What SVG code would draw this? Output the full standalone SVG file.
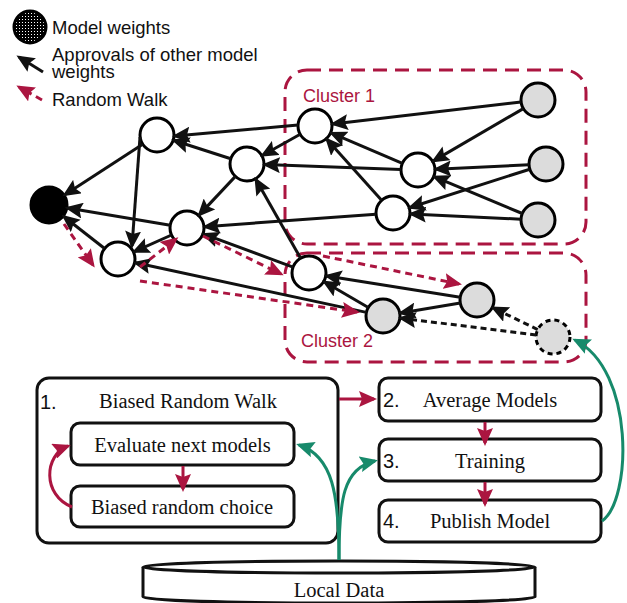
<svg xmlns="http://www.w3.org/2000/svg" width="627" height="603" viewBox="0 0 627 603">
<defs>
<style>
.n{fill:#fff;stroke:#000;stroke-width:3}
.g{fill:#dcdcdc;stroke:#000;stroke-width:3}
.e{stroke:#111;stroke-width:3;fill:none;marker-end:url(#aB)}
.ed{stroke:#111;stroke-width:3;fill:none;stroke-dasharray:6 4;marker-end:url(#aB)}
.rw{stroke:#ab1540;stroke-width:3;fill:none;stroke-dasharray:7 5;marker-end:url(#aR)}
.ra{stroke:#ab1540;stroke-width:3;fill:none;marker-end:url(#aR)}
.ga{stroke:#178a6b;stroke-width:3;fill:none;marker-end:url(#aG)}
.cl{fill:none;stroke:#ab1540;stroke-width:3;stroke-dasharray:14 8}
.box{fill:#fff;stroke:#111;stroke-width:3}
.sans{font-family:"Liberation Sans",Arial,sans-serif}
.serif{font-family:"Liberation Serif","Times New Roman",serif;font-size:20.5px;fill:#111}
.lg{font-size:18.5px;fill:#111}
.ct{font-size:18px;fill:#ab1540}
.num{font-family:"Liberation Sans",Arial,sans-serif;font-size:20px;fill:#111}
</style>
<marker id="aB" viewBox="0 0 18 16" refX="15" refY="8" markerWidth="18" markerHeight="16" markerUnits="userSpaceOnUse" orient="auto"><path d="M0,0 L18,8 L0,16 L3,8 z" fill="#111"/></marker>
<marker id="aR" viewBox="0 0 18 16" refX="15" refY="8" markerWidth="18" markerHeight="16" markerUnits="userSpaceOnUse" orient="auto"><path d="M0,0 L18,8 L0,16 L3,8 z" fill="#ab1540"/></marker>
<marker id="aG" viewBox="0 0 18 16" refX="15" refY="8" markerWidth="18" markerHeight="16" markerUnits="userSpaceOnUse" orient="auto"><path d="M0,0 L18,8 L0,16 L3,8 z" fill="#178a6b"/></marker>
<pattern id="hatch" width="3" height="3" patternUnits="userSpaceOnUse"><rect width="3" height="3" fill="#000"/><rect x="1" y="1" width="1" height="1" fill="#fff"/></pattern>
</defs>

<!-- legend -->
<g id="legend">
<circle cx="30" cy="27" r="16" fill="url(#hatch)" stroke="#000" stroke-width="3"/>
<text class="sans lg" x="52" y="34">Model weights</text>
<line x1="43" y1="72" x2="19" y2="57" class="e"/>
<text class="sans lg" x="52" y="61">Approvals of other model</text>
<text class="sans lg" x="52" y="78">weights</text>
<line x1="42" y1="100" x2="19" y2="87" class="rw" stroke-dasharray="6 4"/>
<text class="sans lg" x="52" y="106">Random Walk</text>
</g>

<!-- clusters -->
<g id="cluster1">
<rect class="cl" x="285" y="70" width="301" height="174" rx="22"/>
<text class="sans ct" x="303" y="102">Cluster 1</text>
</g>
<g id="cluster2">
<rect class="cl" x="285" y="253" width="301" height="109" rx="22"/>
<text class="sans ct" x="301" y="347">Cluster 2</text>
</g>

<!-- nodes -->
<g id="nBlack"><circle cx="49" cy="205" r="18" fill="#000" stroke="#000" stroke-width="3"/></g>
<g id="nA"><circle class="n" cx="157" cy="135" r="17"/></g>
<g id="nB"><circle class="n" cx="247" cy="164" r="17"/></g>
<g id="nC"><circle class="n" cx="187" cy="228" r="17"/></g>
<g id="nD"><circle class="n" cx="118" cy="259" r="17"/></g>
<g id="nE"><circle class="n" cx="315" cy="126" r="17"/></g>
<g id="nF"><circle class="n" cx="418" cy="170" r="17"/></g>
<g id="nG"><circle class="n" cx="393" cy="213" r="17"/></g>
<g id="nH1"><circle class="g" cx="538" cy="100" r="17"/></g>
<g id="nH2"><circle class="g" cx="546" cy="164" r="17"/></g>
<g id="nH3"><circle class="g" cx="538" cy="220" r="17"/></g>
<g id="nI"><circle class="n" cx="309" cy="273" r="17"/></g>
<g id="nJ"><circle class="g" cx="383" cy="316" r="17"/></g>
<g id="nK"><circle class="g" cx="477" cy="300" r="17"/></g>
<g id="nL"><circle class="g" cx="553" cy="337" r="17" stroke-dasharray="5 4"/></g>

<!-- process boxes -->
<g id="step1">
<rect class="box" x="37" y="378" width="301" height="165" rx="12"/>
<text class="num" x="40" y="409">1.</text>
<text class="serif" x="188" y="408" text-anchor="middle">Biased Random Walk</text>
</g>
<g id="evaluate">
<rect class="box" x="71" y="423" width="223" height="42" rx="9"/>
<text class="serif" x="182.5" y="452" text-anchor="middle">Evaluate next models</text>
</g>
<g id="choice">
<rect class="box" x="71" y="486" width="223" height="41" rx="9"/>
<text class="serif" x="182" y="514" text-anchor="middle">Biased random choice</text>
</g>
<g id="step2">
<rect class="box" x="379" y="378" width="222" height="43" rx="9"/>
<text class="num" x="383" y="407">2.</text>
<text class="serif" x="490" y="407" text-anchor="middle">Average Models</text>
</g>
<g id="step3">
<rect class="box" x="379" y="439" width="222" height="42" rx="9"/>
<text class="num" x="383" y="468">3.</text>
<text class="serif" x="490" y="468" text-anchor="middle">Training</text>
</g>
<g id="step4">
<rect class="box" x="379" y="500" width="222" height="42" rx="9"/>
<text class="num" x="383" y="528">4.</text>
<text class="serif" x="490" y="528" text-anchor="middle">Publish Model</text>
</g>
<g id="localData">
<path class="box" d="M143,567 L143,597 A196,6 0 0 0 535,597 L535,567"/>
<ellipse class="box" cx="339" cy="567" rx="196" ry="6"/>
<text class="serif" x="339" y="597" text-anchor="middle">Local Data</text>
</g>

<!-- connectors -->
<g id="connectors">
<line class="e" x1="142.7" y1="144.2" x2="64.9" y2="194.7"/>
<line class="e" x1="140" y1="137" x2="132" y2="246"/>
<line class="e" x1="104.6" y1="248.5" x2="64" y2="216.7"/>
<line class="e" x1="170.2" y1="225.2" x2="67.7" y2="208.1"/>
<line class="e" x1="171.5" y1="235" x2="134.4" y2="251.6"/>
<line class="e" x1="230.8" y1="158.8" x2="174.1" y2="140.5"/>
<line class="e" x1="235.4" y1="176.4" x2="199.3" y2="214.9"/>
<line class="e" x1="298" y1="125" x2="175" y2="136"/>
<line class="e" x1="300.2" y1="134.3" x2="262.7" y2="155.2"/>
<line class="e" x1="401" y1="169.4" x2="265" y2="164.6"/>
<line class="e" x1="300.6" y1="258.2" x2="255.9" y2="179.6"/>
<line class="e" x1="376" y1="214.2" x2="205" y2="226.7"/>
<line class="e" x1="293" y1="267.1" x2="203.9" y2="234.2"/>
<line class="e" x1="366.4" y1="312.4" x2="135.6" y2="262.8"/>
<line class="e" x1="521.1" y1="102" x2="332.9" y2="123.9"/>
<line class="e" x1="523.3" y1="108.6" x2="433.6" y2="160.9"/>
<line class="e" x1="529" y1="164.8" x2="436" y2="169.2"/>
<line class="e" x1="529.8" y1="169.2" x2="410.1" y2="207.5"/>
<line class="e" x1="521" y1="219.2" x2="411" y2="213.9"/>
<line class="e" x1="522.3" y1="213.5" x2="434.6" y2="176.9"/>
<line class="e" x1="402.4" y1="163.3" x2="331.6" y2="133.1"/>
<line class="e" x1="381.6" y1="200.3" x2="327" y2="139.4"/>
<line class="e" x1="460.2" y1="297.3" x2="326.8" y2="275.9"/>
<line class="e" x1="368.3" y1="307.5" x2="324.6" y2="282"/>
<line class="e" x1="460.3" y1="302.9" x2="400.7" y2="313"/>
<line class="ed" x1="537.7" y1="329.6" x2="493.2" y2="307.9"/>
<line class="ed" x1="536.1" y1="334.9" x2="400.9" y2="318.2"/>
<line class="rw" x1="64" y1="224" x2="93" y2="265"/>
<line class="rw" x1="140" y1="267" x2="176" y2="239"/>
<line class="rw" x1="203" y1="236" x2="281" y2="274"/>
<line class="rw" x1="140" y1="281" x2="357" y2="312"/>
<line class="rw" x1="323" y1="256" x2="459" y2="284"/>
<line class="ra" x1="339" y1="399" x2="374" y2="399"/>
<line class="ra" x1="183" y1="466" x2="183" y2="489"/>
<line class="ra" x1="485" y1="422" x2="485" y2="443"/>
<line class="ra" x1="485" y1="482" x2="485" y2="504"/>
<path class="ra" d="M72,507 C42,495 44,455 68,446"/>
<path class="ga" d="M339,560 C339,495 333,456 299,445"/>
<path class="ga" d="M339,560 C339,500 343,468 375,461"/>
<path class="ga" d="M602,521 C632,500 635,370 575,340"/>
</g>
</svg>
